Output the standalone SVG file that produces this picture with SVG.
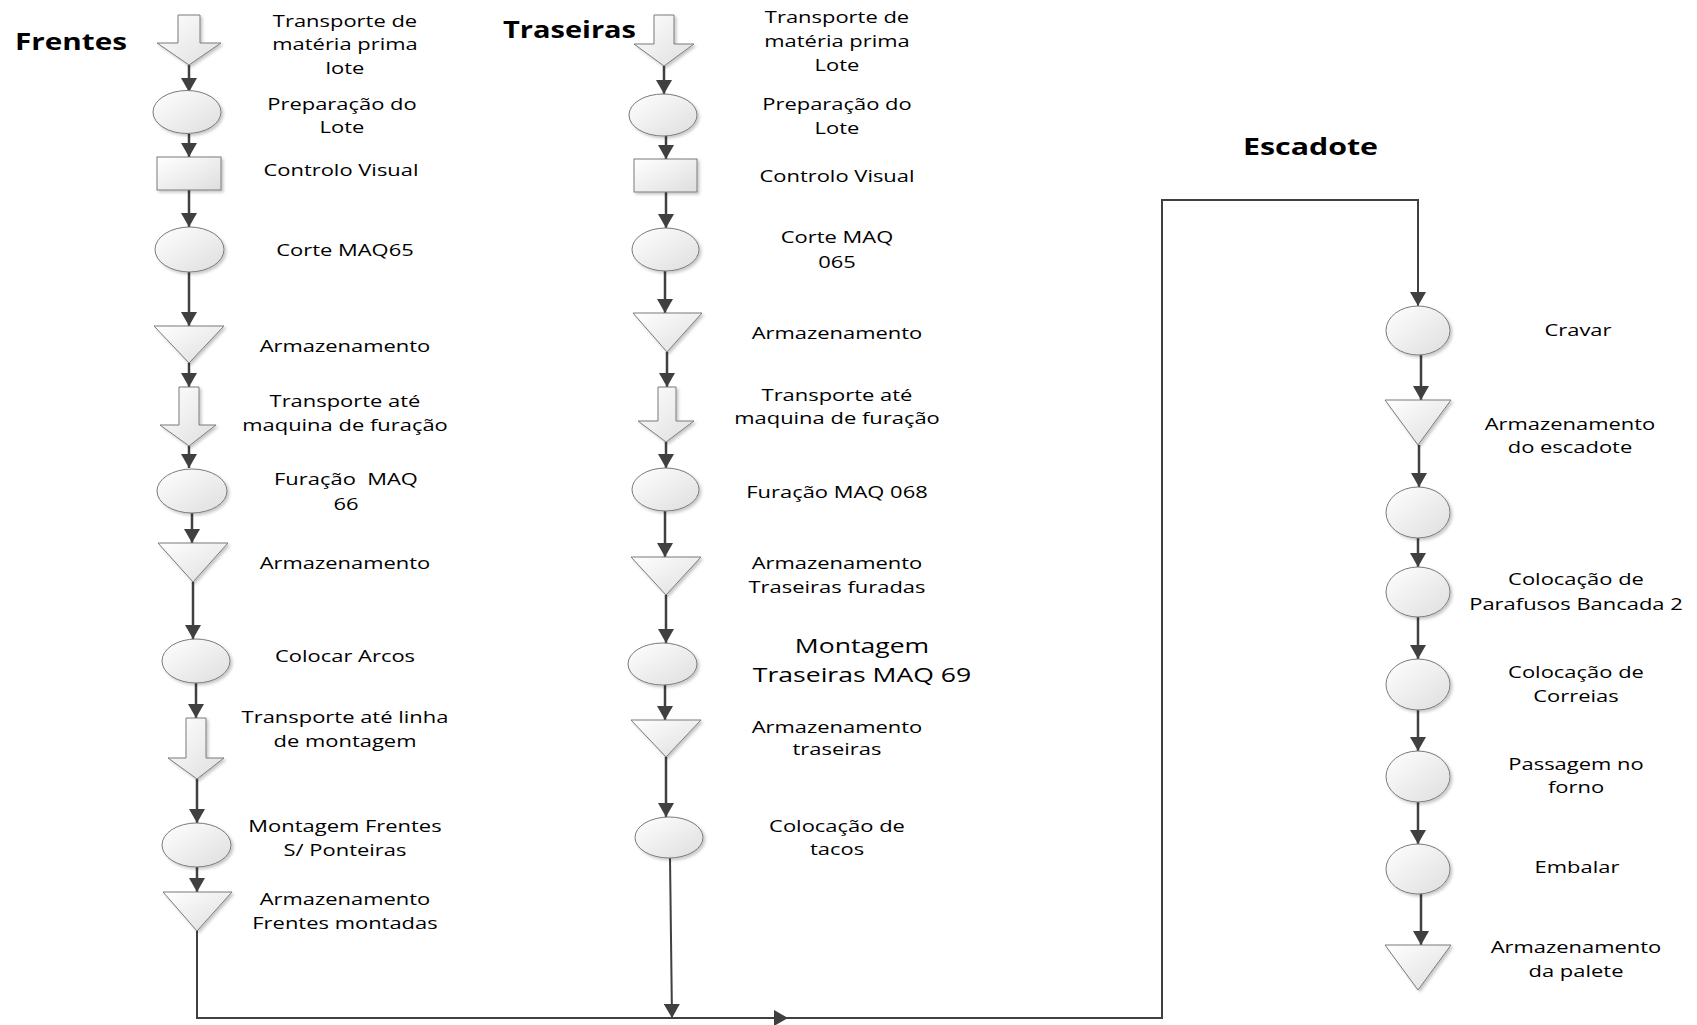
<svg xmlns="http://www.w3.org/2000/svg" width="1697" height="1025" viewBox="0 0 1697 1025">
<defs>
<linearGradient id="g" x1="0" y1="0" x2="1" y2="1">
<stop offset="0" stop-color="#ffffff"/>
<stop offset="1" stop-color="#dedede"/>
</linearGradient>
<filter id="sh" x="-20%" y="-20%" width="150%" height="150%">
<feDropShadow dx="2" dy="2" stdDeviation="1.5" flood-color="#000" flood-opacity="0.22"/>
</filter>
<marker id="ah" markerUnits="userSpaceOnUse" markerWidth="16" markerHeight="16" viewBox="0 0 14 16" refX="14" refY="8" orient="auto">
<path d="M0,0 L14,8 L0,16 Z" fill="#404040"/>
</marker>
</defs>
<style>
.shp { fill: url(#g); stroke: #7a7a7a; stroke-width: 1; filter: url(#sh); }
.con { fill: none; stroke: #404040; stroke-width: 2.5; marker-end: url(#ah); }
.lnk { fill: none; stroke: #404040; stroke-width: 2; }
.lbl { font-family: "Open Sans", "Noto Sans", sans-serif; font-size: 16.5px; text-anchor: middle; fill: #000; transform-box: fill-box; transform-origin: center; transform: scaleX(1.33); }
.big { font-size: 20px; }
.ttl { font-family: "Open Sans", "Noto Sans", sans-serif; font-size: 24px; font-weight: bold; fill: #000; }
</style>
<rect width="1697" height="1025" fill="#fff"/>

<g id="titles">
<text class="ttl" x="15" y="50" textLength="112" lengthAdjust="spacingAndGlyphs">Frentes</text>
<text class="ttl" x="503" y="38" textLength="133" lengthAdjust="spacingAndGlyphs">Traseiras</text>
<text class="ttl" x="1243" y="155" textLength="135" lengthAdjust="spacingAndGlyphs">Escadote</text>
</g>

<g id="connectors">
<path class="con" d="M189,65 V92"/>
<path class="con" d="M189,134 V157"/>
<path class="con" d="M189,190 V227"/>
<path class="con" d="M189,272 V326"/>
<path class="con" d="M189,363 V387"/>
<path class="con" d="M189,446 V468"/>
<path class="con" d="M192,513 V543"/>
<path class="con" d="M193,582 V639"/>
<path class="con" d="M196,683 V718"/>
<path class="con" d="M197,779 V823"/>
<path class="con" d="M197,867 V892"/>
<path class="lnk" d="M197,931 V1018 H788" marker-end="url(#ah)"/>
<path class="lnk" d="M788,1018 H1162 V200 H1418 V306" marker-end="url(#ah)"/>

<path class="con" d="M664,66 V94"/>
<path class="con" d="M666,136 V159"/>
<path class="con" d="M666,192 V228"/>
<path class="con" d="M665,271 V313"/>
<path class="con" d="M667,352 V387"/>
<path class="con" d="M666,442 V468"/>
<path class="con" d="M665,511 V557"/>
<path class="con" d="M666,595 V643"/>
<path class="con" d="M665,685 V720"/>
<path class="con" d="M666,757 V817"/>
<path class="lnk" d="M670,858 L672,1018" marker-end="url(#ah)"/>

<path class="con" d="M1421,355 V400"/>
<path class="con" d="M1419,445 V487"/>
<path class="con" d="M1418,538 V567"/>
<path class="con" d="M1418,617 V659"/>
<path class="con" d="M1418,710 V751"/>
<path class="con" d="M1418,802 V844"/>
<path class="con" d="M1421,894 V945"/>
</g>

<g id="f1"><path class="shp" d="M178,15 H200 V43 H221 L189,65 L157,43 H178 Z"/>
<text class="lbl" x="345"><tspan x="345" y="27">Transporte de</tspan><tspan x="345" y="50">matéria prima</tspan><tspan x="345" y="74">lote</tspan></text></g>
<g id="f2"><ellipse class="shp" cx="187" cy="112" rx="34" ry="21.5"/>
<text class="lbl" x="342"><tspan x="342" y="110">Preparação do</tspan><tspan x="342" y="133">Lote</tspan></text></g>
<g id="f3"><rect class="shp" x="157" y="157" width="64" height="33"/>
<text class="lbl" x="341" y="176">Controlo Visual</text></g>
<g id="f4"><ellipse class="shp" cx="189.5" cy="249.5" rx="34.5" ry="22.5"/>
<text class="lbl" x="345" y="256">Corte MAQ65</text></g>
<g id="f5"><path class="shp" d="M154,326 H224 L189,363 Z"/>
<text class="lbl" x="345" y="352">Armazenamento</text></g>
<g id="f6"><path class="shp" d="M179,387 H199 V425 H216 L189,446 L160,425 H179 Z"/>
<text class="lbl" x="345"><tspan x="345" y="407">Transporte até</tspan><tspan x="345" y="431">maquina de furação</tspan></text></g>
<g id="f7"><ellipse class="shp" cx="192" cy="491" rx="35" ry="22"/>
<text class="lbl" x="346" xml:space="preserve"><tspan x="346" y="485">Furação  MAQ</tspan><tspan x="346" y="510">66</tspan></text></g>
<g id="f8"><path class="shp" d="M158,543 H228 L193,582 Z"/>
<text class="lbl" x="345" y="569">Armazenamento</text></g>
<g id="f9"><ellipse class="shp" cx="196" cy="661" rx="34" ry="22"/>
<text class="lbl" x="345" y="662">Colocar Arcos</text></g>
<g id="f10"><path class="shp" d="M186,718 H206 V758 H224 L197,779 L168,758 H186 Z"/>
<text class="lbl" x="345"><tspan x="345" y="723">Transporte até linha</tspan><tspan x="345" y="747">de montagem</tspan></text></g>
<g id="f11"><ellipse class="shp" cx="196.5" cy="845" rx="34.5" ry="22"/>
<text class="lbl" x="345"><tspan x="345" y="832">Montagem Frentes</tspan><tspan x="345" y="856">S/ Ponteiras</tspan></text></g>
<g id="f12"><path class="shp" d="M163,892 H232 L197,931 Z"/>
<text class="lbl" x="345"><tspan x="345" y="905">Armazenamento</tspan><tspan x="345" y="929">Frentes montadas</tspan></text></g>

<g id="t1"><path class="shp" d="M654,15 H674 V44 H694 L664,66 L634,44 H654 Z"/>
<text class="lbl" x="837"><tspan x="837" y="23">Transporte de</tspan><tspan x="837" y="47">matéria prima</tspan><tspan x="837" y="71">Lote</tspan></text></g>
<g id="t2"><ellipse class="shp" cx="663" cy="115" rx="34" ry="21"/>
<text class="lbl" x="837"><tspan x="837" y="110">Preparação do</tspan><tspan x="837" y="134">Lote</tspan></text></g>
<g id="t3"><rect class="shp" x="634" y="159" width="63" height="33"/>
<text class="lbl" x="837" y="182">Controlo Visual</text></g>
<g id="t4"><ellipse class="shp" cx="665.5" cy="249.5" rx="33.5" ry="21.5"/>
<text class="lbl" x="837"><tspan x="837" y="243">Corte MAQ</tspan><tspan x="837" y="268">065</tspan></text></g>
<g id="t5"><path class="shp" d="M633,313 H702 L667,352 Z"/>
<text class="lbl" x="837" y="339">Armazenamento</text></g>
<g id="t6"><path class="shp" d="M658,387 H676 V421 H694 L666,442 L638,421 H658 Z"/>
<text class="lbl" x="837"><tspan x="837" y="401">Transporte até</tspan><tspan x="837" y="424">maquina de furação</tspan></text></g>
<g id="t7"><ellipse class="shp" cx="665.5" cy="489.5" rx="33.5" ry="21.5"/>
<text class="lbl" x="837" y="498">Furação MAQ 068</text></g>
<g id="t8"><path class="shp" d="M631,557 H701 L666,595 Z"/>
<text class="lbl" x="837"><tspan x="837" y="569">Armazenamento</tspan><tspan x="837" y="593">Traseiras furadas</tspan></text></g>
<g id="t9"><ellipse class="shp" cx="662.5" cy="664" rx="34.5" ry="21"/>
<text class="lbl big" x="862"><tspan x="862" y="653">Montagem</tspan><tspan x="862" y="682">Traseiras MAQ 69</tspan></text></g>
<g id="t10"><path class="shp" d="M631,720 H701 L666,757 Z"/>
<text class="lbl" x="837"><tspan x="837" y="733">Armazenamento</tspan><tspan x="837" y="755">traseiras</tspan></text></g>
<g id="t11"><ellipse class="shp" cx="669" cy="837.5" rx="34" ry="20.5"/>
<text class="lbl" x="837"><tspan x="837" y="832">Colocação de</tspan><tspan x="837" y="855">tacos</tspan></text></g>

<g id="e1"><ellipse class="shp" cx="1418" cy="330.5" rx="32" ry="24.5"/>
<text class="lbl" x="1578" y="336">Cravar</text></g>
<g id="e2"><path class="shp" d="M1385,400 H1451 L1418,445 Z"/>
<text class="lbl" x="1570"><tspan x="1570" y="430">Armazenamento</tspan><tspan x="1570" y="453">do escadote</tspan></text></g>
<g id="e3"><ellipse class="shp" cx="1418" cy="512.5" rx="32" ry="25.5"/></g>
<g id="e4"><ellipse class="shp" cx="1418" cy="592" rx="32" ry="25"/>
<text class="lbl" x="1576"><tspan x="1576" y="585">Colocação de</tspan><tspan x="1576" y="610">Parafusos Bancada 2</tspan></text></g>
<g id="e5"><ellipse class="shp" cx="1418" cy="684.5" rx="32" ry="25.5"/>
<text class="lbl" x="1576"><tspan x="1576" y="678">Colocação de</tspan><tspan x="1576" y="702">Correias</tspan></text></g>
<g id="e6"><ellipse class="shp" cx="1418" cy="776.5" rx="32" ry="25.5"/>
<text class="lbl" x="1576"><tspan x="1576" y="770">Passagem no</tspan><tspan x="1576" y="793">forno</tspan></text></g>
<g id="e7"><ellipse class="shp" cx="1418" cy="869" rx="32" ry="25"/>
<text class="lbl" x="1577" y="873">Embalar</text></g>
<g id="e8"><path class="shp" d="M1385,945 H1451 L1418,990 Z"/>
<text class="lbl" x="1576"><tspan x="1576" y="953">Armazenamento</tspan><tspan x="1576" y="977">da palete</tspan></text></g>
</svg>
